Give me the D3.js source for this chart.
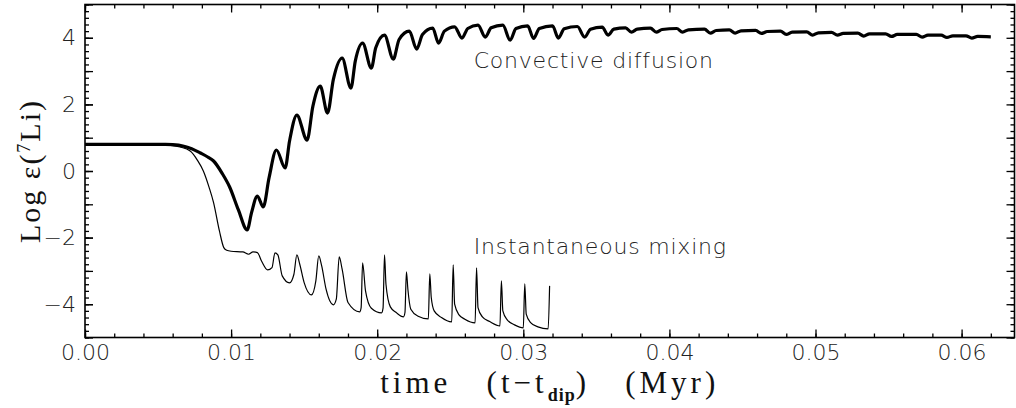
<!DOCTYPE html>
<html>
<head>
<meta charset="utf-8">
<script src="https://d3js.org/d3.v7.min.js"></script>
<style>
  body { margin: 0; background: #fff; }
  .tick text { font-family: "DejaVu Sans", sans-serif; font-weight: 200; font-size: 22px; fill: #222; }
  .tick line { stroke: #000; stroke-width: 1.3px; }
  .frame { fill: none; stroke: #000; stroke-width: 1.6px; }
  .thick { fill: none; stroke: #000; stroke-width: 3.2px; stroke-linejoin: round; }
  .thin { fill: none; stroke: #000; stroke-width: 1.2px; stroke-linejoin: round; }
  .note { font-family: "DejaVu Sans", sans-serif; font-weight: 200; font-size: 22px; letter-spacing: 0.8px; fill: #222; }
  .title { font-family: "Liberation Serif", serif; font-size: 31px; letter-spacing: 4px; fill: #111; white-space: pre; }
</style>
</head>
<body>
<svg width="1016" height="408"></svg>
<script>

// convective diffusion (thick)
var convT = [0, 0.0040, 0.0055, 0.0060, 0.0067, 0.0073, 0.0079, 0.0084, 0.0088, 0.0094, 0.0099, 0.0105, 0.0111,
  0.0114, 0.0118, 0.0122, 0.0126, 0.0131, 0.0137, 0.0140, 0.0145, 0.0152, 0.0156,
  0.0161, 0.0166, 0.0170, 0.0176, 0.0182, 0.0185, 0.0190, 0.0196, 0.0199, 0.0205,
  0.0211, 0.0215, 0.0222, 0.0227, 0.0231, 0.0238, 0.0242, 0.0246, 0.0253, 0.0258,
  0.0262, 0.0269, 0.0274, 0.0278, 0.0286, 0.0291, 0.0295, 0.0303, 0.0307, 0.0311,
  0.0320, 0.0324, 0.0328, 0.0337, 0.0342, 0.0346, 0.0354, 0.0358, 0.0362, 0.0370,
  0.0374, 0.0378, 0.0387, 0.0391, 0.0395, 0.0405, 0.0409, 0.0413, 0.0424, 0.0428,
  0.0432, 0.0441, 0.0445, 0.0449, 0.0459, 0.0463, 0.0467, 0.0476, 0.0480, 0.0484,
  0.0494, 0.0498, 0.0502, 0.0511, 0.0515, 0.0519, 0.0529, 0.0533, 0.0537, 0.0548,
  0.0552, 0.0556, 0.0569, 0.0573, 0.0577, 0.0586, 0.0590, 0.0594, 0.0603, 0.0607,
  0.0611, 0.0620];
var convY = [0.80, 0.80, 0.80, 0.79, 0.75, 0.67, 0.54, 0.42, 0.30, -0.08, -0.48, -1.17, -1.77,
  -1.25, -0.75, -1.08, -0.20, 0.63, 0.09, 0.90, 1.68, 0.93, 1.95,
  2.55, 1.74, 2.75, 3.39, 2.49, 3.30, 3.84, 3.09, 3.70, 4.08,
  3.36, 3.95, 4.20, 3.66, 4.10, 4.29, 3.84, 4.20, 4.33, 3.99,
  4.28, 4.38, 4.02, 4.30, 4.38, 3.93, 4.28, 4.36, 3.98, 4.28,
  4.36, 3.99, 4.27, 4.34, 4.02, 4.26, 4.32, 4.08, 4.26, 4.30,
  4.17, 4.26, 4.29, 4.17, 4.25, 4.28, 4.17, 4.24, 4.26, 4.14,
  4.22, 4.24, 4.14, 4.21, 4.22, 4.13, 4.19, 4.20, 4.10, 4.17,
  4.18, 4.08, 4.15, 4.16, 4.08, 4.13, 4.14, 4.05, 4.12, 4.12,
  4.04, 4.10, 4.10, 4.02, 4.08, 4.08, 4.01, 4.06, 4.06, 3.99,
  4.04, 4.03];

// instantaneous mixing (thin)
var instT = [0, 0.0040, 0.0050, 0.0058, 0.0065, 0.0072, 0.0077, 0.0081, 0.0085, 0.0088, 0.0092,
  0.0095, 0.0097, 0.0100, 0.0108, 0.0112, 0.0115, 0.0118, 0.0121, 0.0125, 0.0128,
  0.0130, 0.0132, 0.0135, 0.0140, 0.0143, 0.0145, 0.0147, 0.0150, 0.0155, 0.0158,
  0.0160, 0.0162, 0.0165, 0.0170, 0.0172, 0.0174, 0.0176, 0.0180, 0.0188, 0.0189,
  0.0190, 0.0192, 0.0196, 0.0203, 0.0204, 0.0205, 0.0206, 0.0209, 0.0213, 0.0218,
  0.0219, 0.0220, 0.0221, 0.0223, 0.0228, 0.0235, 0.0236, 0.0237, 0.0239, 0.0244,
  0.0251, 0.0252, 0.0253, 0.0256, 0.0260, 0.0267, 0.0268, 0.0269, 0.0272, 0.0277,
  0.0284, 0.0285, 0.0286, 0.0289, 0.0294, 0.0300, 0.0301, 0.0302, 0.0305, 0.0310,
  0.0317, 0.0318];
var instY = [0.80, 0.80, 0.79, 0.77, 0.72, 0.60, 0.32, 0.00, -0.50, -0.95, -1.80,
  -2.30, -2.38, -2.41, -2.43, -2.50, -2.43, -2.45, -2.72, -2.97, -2.90,
  -2.46, -2.52, -3.15, -3.36, -3.10, -2.52, -2.80, -3.35, -3.72, -3.30,
  -2.55, -2.85, -3.55, -4.02, -3.85, -2.58, -2.95, -3.95, -4.23, -4.10,
  -2.76, -3.60, -4.12, -4.26, -4.12, -2.52, -3.40, -4.08, -4.25, -4.38,
  -4.25, -3.03, -3.55, -4.15, -4.36, -4.44, -3.09, -3.80, -4.20, -4.40,
  -4.53, -2.82, -4.00, -4.32, -4.45, -4.56, -2.91, -4.10, -4.38, -4.52,
  -4.65, -3.30, -4.20, -4.47, -4.62, -4.71, -3.39, -4.30, -4.55, -4.68,
  -4.74, -3.45];

var xMajor = [0, 0.01, 0.02, 0.03, 0.04, 0.05, 0.06];
var xMinor = d3.range(0, 0.0637, 0.002);
var yLabeled = [-4, -2, 0, 2, 4];
var yMajor = d3.range(-5, 5.01, 1);
var yMinor = d3.range(-5, 5.01, 0.2);

var notes = [
  {text: "Convective diffusion", t: 0.0266, v: 3.09},
  {text: "Instantaneous mixing", t: 0.0266, v: -2.49}
];

var svg = d3.select("svg"),
    margin = {top: 4.5, right: 1.5, bottom: 70.5, left: 85},
    width = +svg.attr("width") - margin.left - margin.right,
    height = +svg.attr("height") - margin.top - margin.bottom,
    g = svg.append("g").attr("transform", "translate(" + margin.left + "," + margin.top + ")");

var x = d3.scaleLinear().domain([0, width / 14610]).range([0, width]);
var y = d3.scaleLinear().domain([-5, 5]).range([height, 0]);

function axis(gen, vals, size, labels) {
  var a = gen.tickValues(vals).tickSize(size);
  if (!labels) a.tickFormat("");
  return a;
}

// bottom
g.append("g").attr("transform", "translate(0," + height + ")")
    .call(axis(d3.axisBottom(x), xMinor, -4, false));
g.append("g").attr("transform", "translate(0," + height + ")")
    .call(axis(d3.axisBottom(x), xMajor, -8, true).tickPadding(7).tickFormat(d3.format(".2f")));
// top
g.append("g").call(axis(d3.axisTop(x), xMinor, -4, false));
g.append("g").call(axis(d3.axisTop(x), xMajor, -8, false));
// left
g.append("g").call(axis(d3.axisLeft(y), yMinor, -4, false));
g.append("g").call(axis(d3.axisLeft(y), yMajor, -8, false));
g.append("g").call(axis(d3.axisLeft(y), yLabeled, -8, true).tickPadding(9).tickFormat(d3.format("d")));
// right
g.append("g").attr("transform", "translate(" + width + ",0)")
    .call(axis(d3.axisRight(y), yMinor, -4, false));
g.append("g").attr("transform", "translate(" + width + ",0)")
    .call(axis(d3.axisRight(y), yMajor, -8, false));

g.selectAll(".domain").remove();

g.append("rect").attr("class", "frame")
    .attr("width", width).attr("height", height);

var line = d3.line()
    .x(function(d) { return x(d[0]); })
    .y(function(d) { return y(d[1]); })
    .curve(d3.curveMonotoneX);

g.append("path").attr("class", "thin")
    .datum(d3.zip(instT, instY))
    .attr("d", line);

g.append("path").attr("class", "thick")
    .datum(d3.zip(convT, convY))
    .attr("d", line);

g.selectAll(".note").data(notes).enter().append("text")
    .attr("class", "note")
    .attr("x", function(d) { return x(d.t); })
    .attr("y", function(d) { return y(d.v); })
    .text(function(d) { return d.text; });

// axis titles
var xt = svg.append("text").attr("class", "title")
    .attr("xml:space", "preserve")
    .attr("x", margin.left + width / 2).attr("y", 393)
    .attr("text-anchor", "middle");
xt.append("tspan").text("time   (t\u2212t");
xt.append("tspan").attr("dy", 8).style("font-size", "18px").style("letter-spacing", "1px").style("font-weight", "bold").text("dip");
xt.append("tspan").attr("dy", -8).text(")   (Myr)");

var yt = svg.append("text").attr("class", "title")
    .attr("transform", "translate(40," + (margin.top + height / 2) + ") rotate(-90)")
    .attr("text-anchor", "middle")
    .style("font-size", "30px")
    .style("letter-spacing", "2px");
yt.append("tspan").text("Log \u03b5(");
yt.append("tspan").attr("dy", -10).style("font-size", "18px").text("7");
yt.append("tspan").attr("dy", 10).text("Li)");

</script>
</body>
</html>
